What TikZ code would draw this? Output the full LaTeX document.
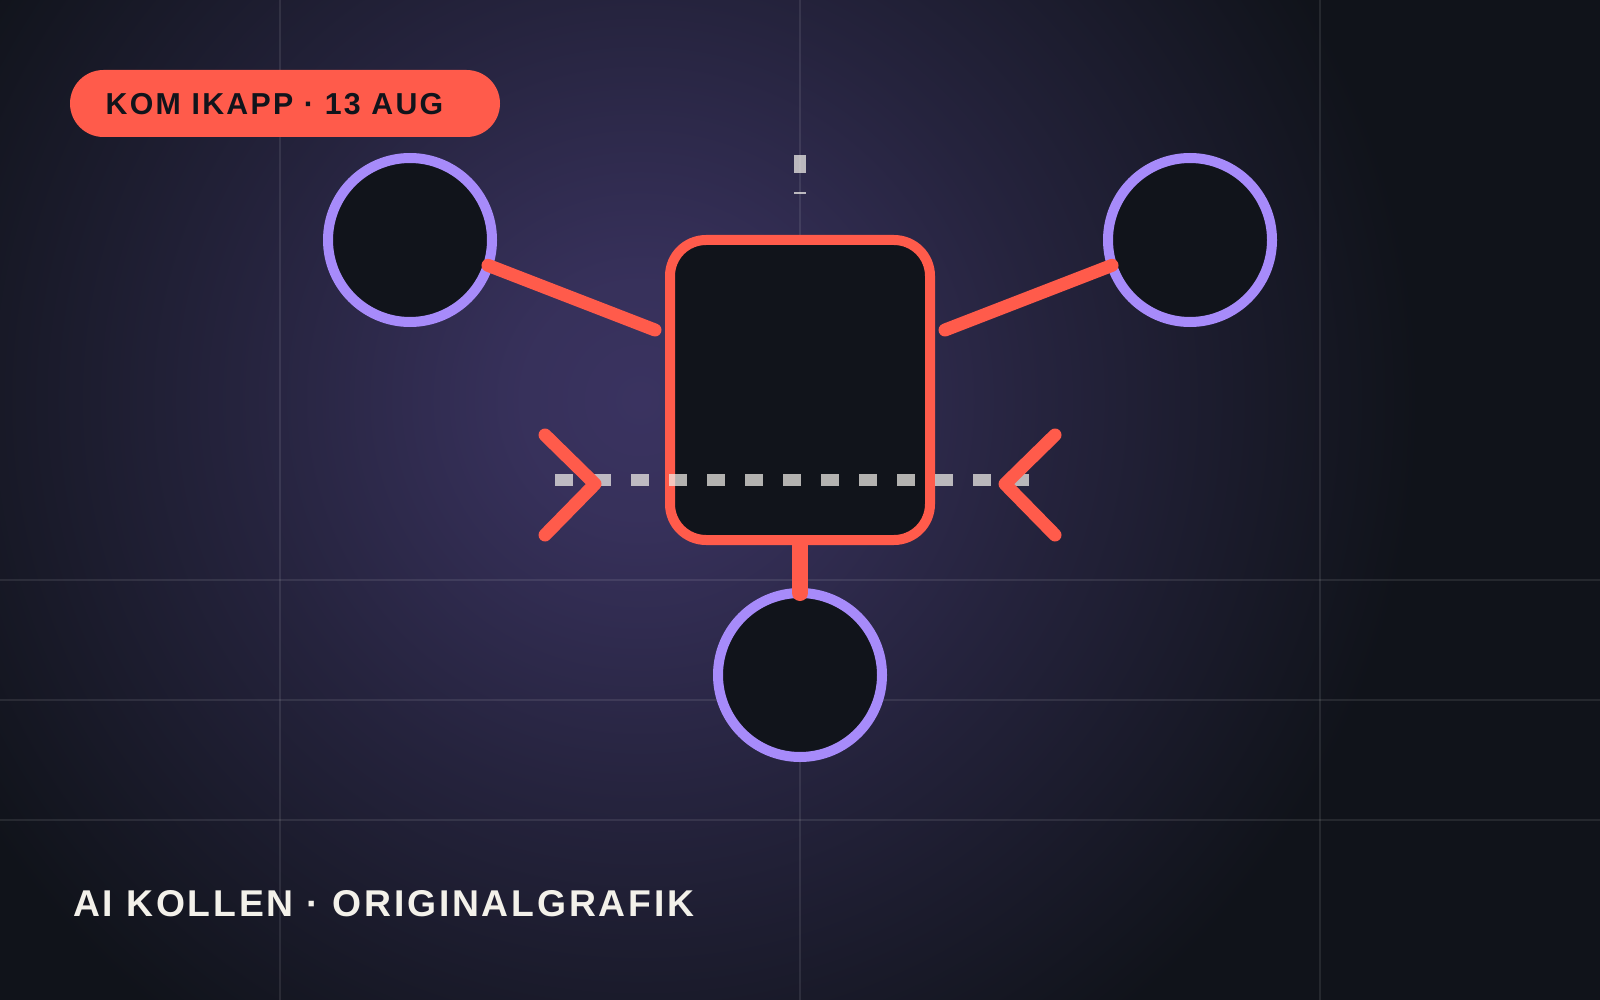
\documentclass[tikz,border=0pt]{standalone}
\usepackage{fontspec}
\setmainfont{Liberation Sans}
\newfontfamily\spaced[LetterSpace=7.5]{Liberation Sans}
\usepackage{tikz}

\definecolor{bgc}{HTML}{10131A}
\definecolor{glowc}{HTML}{3A3360}
\definecolor{coral}{HTML}{FF5B4B}
\definecolor{lilac}{HTML}{A78BFA}
\definecolor{ink}{HTML}{11141B}
\definecolor{paper}{HTML}{F3F1EA}
\definecolor{dashc}{HTML}{F2F0EA}
\pgfdeclareradialshading{glow}{\pgfpoint{0bp}{0bp}}{color(0bp)=(glowc); color(4bp)=(glowc!92!bgc); color(13bp)=(glowc!50!bgc); color(25bp)=(bgc); color(50bp)=(bgc)}

\tikzset{
    gridline/.style={white, opacity=0.09, line width=1.2pt},
    hub/.style={circle, draw=lilac, fill=ink, line width=10pt, minimum size=164pt, inner sep=0pt, outer sep=0pt},
    box/.style={rectangle, draw=coral, fill=ink, line width=10pt, rounded corners=36pt, minimum width=260pt, minimum height=300pt},
    link/.style={coral, line width=13pt, line cap=round},
    stem/.style={coral, line width=16pt, line cap=round},
    chevron/.style={coral, line width=13pt, line cap=round, line join=round},
    dashmark/.style={fill=dashc, opacity=0.72},
    pill/.style={fill=coral, rounded corners=33.5pt, minimum width=430pt, minimum height=67pt, inner sep=0pt},
}

\begin{document}
\begin{tikzpicture}[x=1pt, y=-1pt]
        \useasboundingbox (0,0) rectangle (1600,1000);

        % Bakgrund
        \fill[bgc] (0,0) rectangle (1600,1000);
        \begin{scope}
            \clip (0,0) rectangle (1600,1000);
            \shade[shading=glow] (640,400) circle (780);
        \end{scope}

        % Rutnät
        \foreach \x in {280,800,1320}
            \draw[gridline] (\x,0) -- (\x,1000);
        \foreach \y in {580,700,820}
            \draw[gridline] (0,\y) -- (1600,\y);

        % Noder
        \node[box] (box) at (800,390) {};
        \node[hub] (lc) at (410,240) {};
        \node[hub] (rc) at (1190,240) {};
        \node[hub] (bc) at (800,675) {};

        % Kopplingar
        \coordinate (lhook) at (655,330);
        \coordinate (rhook) at (945,330);
        \draw[link] (lc.-18) -- (lhook);
        \draw[link] (rc.198) -- (rhook);
        \draw[stem] (box.south) -- (bc.north);

        % Streckad linje
        \foreach \i in {0,...,12}
            \fill[dashmark] (555+38*\i,474) rectangle ++(18,12);
        \fill[dashmark] (794,155) rectangle (806,173);
        \fill[dashmark] (794,192.5) rectangle (806,194.5);

        % Vinklar
        \draw[chevron] (545,435) -- (595,484) -- (545,535);
        \draw[chevron] (1055,435) -- (1005,484) -- (1055,535);

        % Texter
        \node[pill] (tag) at (285,103.5) {};
        \node[anchor=base west, inner sep=0pt, text=ink, font=\spaced\bfseries\fontsize{30.3}{36}\selectfont] (tagtext) at (105.5,115) {KOM IKAPP · 13 AUG};
        \node[anchor=base west, inner sep=0pt, text=paper, font=\spaced\bfseries\fontsize{37.3}{44}\selectfont] (footer) at (73,916) {AI KOLLEN · ORIGINALGRAFIK};
\end{tikzpicture}
\end{document}
